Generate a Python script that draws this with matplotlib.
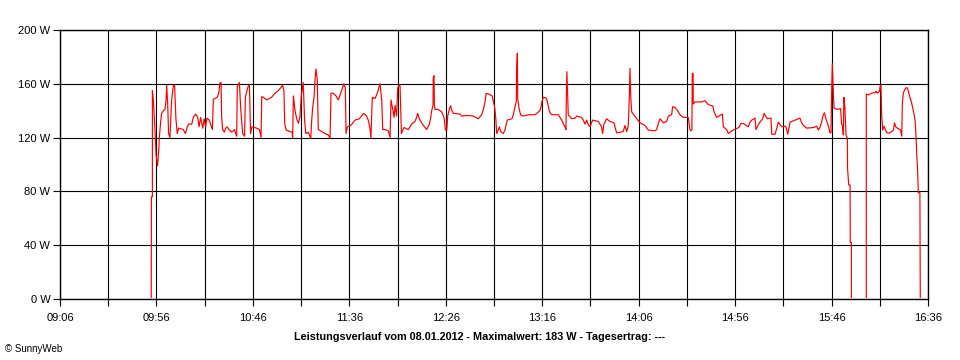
import matplotlib
matplotlib.use('Agg')
import matplotlib.pyplot as plt
from matplotlib.ticker import FuncFormatter, MultipleLocator
from matplotlib.transforms import Bbox, TransformedBbox

plt.rcParams['font.family'] = ['Liberation Sans', 'DejaVu Sans']

# minutes after 09:06 and power in W
minutes = [
    47.3, 47.4, 47.9, 47.9, 48.4, 49.4, 49.8, 50.6, 51.2, 51.5, 52.2, 52.7, 53.6, 54.4, 55.0, 55.3,
    55.8, 56.3, 57.0, 57.4, 57.9, 58.8, 59.4, 60.1, 60.8, 61.5, 63.9, 65.0, 66.0, 66.7, 68.3, 69.1,
    70.3, 71.4, 72.1, 72.9, 74.0, 74.7, 75.5, 76.2, 77.4, 78.5, 79.0, 79.5, 81.6, 82.4, 82.9, 83.5,
    83.8, 84.3, 85.2, 85.9, 86.6, 87.6, 89.0, 90.4, 91.6, 91.9, 93.0, 93.7, 94.7, 95.7, 96.1, 97.5,
    98.2, 98.8, 99.5, 102.0, 103.4, 104.2, 104.6, 105.4, 107.1, 109.7, 111.5, 113.2, 114.4, 115.4,
    116.1, 116.5, 117.2, 120.3, 120.6, 121.0, 121.8, 122.7, 123.6, 124.4, 125.1, 126.1, 126.8, 127.4,
    128.7, 130.0, 130.5, 131.0, 131.7, 132.2, 132.7, 133.4, 133.9, 135.7, 137.4, 139.1, 140.0, 140.5,
    141.7, 143.1, 144.3, 145.2, 146.5, 147.2, 147.9, 148.3, 149.0, 151.2, 152.9, 155.2, 157.3, 158.7,
    159.8, 160.7, 161.2, 161.9, 163.3, 164.5, 165.9, 166.8, 167.3, 168.5, 170.2, 171.1, 171.6, 172.5,
    173.2, 173.7, 174.5, 175.1, 175.9, 176.3, 177.0, 178.3, 180.6, 182.3, 184.0, 184.9, 185.4, 186.6,
    188.4, 190.1, 191.5, 192.2, 192.7, 193.4, 193.5, 193.9, 194.1, 194.4, 196.1, 197.9, 199.1, 199.8,
    200.5, 201.0, 201.8, 202.5, 203.2, 203.9, 207.4, 208.2, 210.8, 214.3, 216.9, 218.6, 219.5, 220.3,
    220.9, 222.1, 224.0, 224.7, 225.3, 225.9, 226.4, 227.2, 227.8, 228.5, 229.8, 230.7, 231.2, 231.9,
    234.3, 235.0, 235.9, 236.6, 236.7, 237.1, 237.3, 238.1, 238.8, 239.9, 242.8, 246.3, 248.8, 249.4,
    249.9, 250.6, 252.0, 252.6, 253.5, 254.0, 254.9, 258.4, 259.2, 260.1, 261.0, 261.8, 262.3, 262.5,
    262.8, 263.2, 263.5, 265.3, 267.0, 267.9, 270.4, 271.3, 272.2, 273.0, 273.9, 274.8, 275.6, 276.1,
    279.1, 280.8, 281.3, 282.0, 283.4, 285.1, 287.2, 287.7, 288.6, 292.0, 292.9, 293.8, 294.6, 295.2,
    295.5, 295.9, 296.4, 299.0, 300.7, 303.3, 305.0, 308.5, 309.3, 310.2, 311.1, 312.8, 314.5, 315.4,
    317.1, 317.6, 318.8, 319.7, 320.6, 321.4, 323.2, 325.7, 326.1, 326.6, 327.1, 327.6, 327.8, 328.2,
    328.3, 329.2, 332.7, 334.4, 336.1, 338.4, 339.0, 339.6, 340.4, 342.5, 343.4, 343.9, 345.6, 346.5,
    348.2, 351.2, 352.2, 352.9, 354.3, 356.8, 357.7, 358.6, 360.3, 360.8, 362.6, 364.3, 365.0, 366.7,
    368.6, 369.0, 370.7, 371.6, 372.4, 374.2, 376.2, 376.7, 377.3, 377.9, 378.5, 381.0, 383.6, 384.5,
    385.4, 387.1, 390.6, 392.3, 393.1, 394.0, 394.9, 395.7, 396.3, 397.1, 397.8, 398.5, 399.2, 399.7,
    400.1, 400.4, 400.8, 401.3, 403.0, 404.7, 405.2, 405.7, 406.1, 406.4, 406.9, 407.5, 408.2, 408.3,
    408.9, 409.6, 409.7, 410.3, 410.3, 418.0, 418.0, 419.1, 420.8, 422.5, 423.0, 423.7, 424.8, 425.3,
    425.6, 426.0, 426.5, 427.2, 428.6, 430.3, 432.1, 432.6, 433.3, 434.1, 435.8, 436.4, 436.7, 437.2,
    437.9, 438.6, 439.3, 440.0, 440.7, 441.4, 442.1, 442.7, 443.3, 443.8, 444.1, 444.6, 445.0, 445.8,
    446.0,
]
watts = [
    0, 76, 76, 155, 148, 121, 107, 99, 111, 120, 132, 138, 140, 141, 148, 159,
    146, 123, 120, 133, 148, 159, 159, 134, 123, 127, 126, 123, 128, 130, 130, 135,
    137.5, 135, 128, 135, 127, 134, 128, 134.5, 133, 128, 126, 148.5, 150, 154, 160.5, 161,
    135.5, 126, 124, 127, 128, 126, 124, 126, 121, 158, 161, 141, 123, 121, 150, 158,
    159, 123, 128, 127, 126, 120, 150.5, 150, 148, 150, 153, 155, 157, 159,
    155, 130.6, 125.6, 124, 120, 151, 140.5, 134, 130.6, 135.5, 151, 161, 133, 123,
    124, 119.5, 133, 142.5, 150, 163, 171, 163, 126, 124.5, 123, 122, 119.5, 153,
    153, 151, 148, 151.6, 157, 160, 157, 123, 128, 129.7, 133, 134, 138, 136.5,
    133, 127, 119.5, 150, 149, 153, 160, 148, 126, 126, 125, 120, 148, 141,
    135, 144, 136, 157, 159, 158.4, 123, 127.5, 126, 130, 132, 135, 138, 133,
    129, 126, 130, 135, 140, 144.3, 164, 166, 144, 141, 141, 139, 135, 125.6,
    125.6, 136, 141, 143.7, 140, 138, 137.5, 136, 136.5, 136, 134, 137, 141, 146.5,
    152.8, 152.5, 151, 146.5, 143, 135, 123, 125.6, 128, 124.5, 123, 125.6, 129, 133,
    134, 137, 143, 147, 169, 182.7, 148.8, 141, 137, 136, 137, 137, 140, 143,
    147, 150, 149.5, 147, 141, 138.5, 137, 137, 135, 133, 130, 128, 126, 150,
    169, 150, 137, 134, 134.5, 136, 135, 133, 130, 133, 129.5, 128, 131, 133,
    132, 128, 123, 130, 134, 132, 131, 128, 123.5, 124.5, 129, 124.5, 128.5, 152,
    171.5, 150, 139, 134, 131, 129, 125.6, 125, 126, 130.5, 134, 131, 132, 136,
    137, 143, 142.5, 141, 139, 137, 135, 135, 131, 126, 125, 125.6, 167.8, 167.8,
    145, 146.5, 146.5, 147.5, 144.5, 143.5, 139.5, 137.5, 135, 136.8, 137.5, 128, 126, 123,
    125, 127, 128, 130.5, 130.5, 128, 131.5, 133, 134.5, 126, 131, 134, 138, 134,
    134.5, 122.5, 122.5, 127, 131.5, 128, 128.5, 126, 122.5, 127, 131.5, 133, 134.5, 131,
    129, 127, 127.5, 128.5, 125.6, 127.5, 132, 137, 138.5, 134, 131, 128, 123.5, 123.5,
    158, 175, 158, 141.8, 141, 141.5, 130, 129, 122, 150, 142.5, 122, 119.5, 97,
    84.8, 84.8, 41.9, 41.9, 0, 0, 152.4, 151.7, 153, 153.5, 154.5, 153, 154.5, 159,
    159, 136.8, 125.6, 128.5, 123.5, 123.5, 125.6, 131, 128, 127, 125.6, 121, 145.5, 153,
    155.5, 157, 157, 153.5, 149.5, 146.5, 141.8, 138, 133, 121, 109.5, 96, 79, 79,
    0,
]

y_ticks = [0, 40, 80, 120, 160, 200]
start_hour, start_min = 9, 6
title = 'Leistungsverlauf vom 08.01.2012 - Maximalwert: 183 W - Tagesertrag: ---'


def clock(x, pos=None):
    total = start_hour * 60 + start_min + int(round(x))
    return '%02d:%02d' % (total // 60, total % 60)


fig = plt.figure(figsize=(9.6, 3.6), dpi=100)
ax = fig.add_axes([60 / 960, 1 - 299 / 360, 868 / 960, 269 / 360])

line, = ax.plot(minutes, watts, color='#ff0000', lw=0.85, zorder=2)
# the stretch at 0 W sits under the black axis line in the original
line.set_clip_box(TransformedBbox(Bbox([[0, 0.005], [1, 1]]), ax.transAxes))

ax.set_xlim(0, 450)
ax.set_ylim(0, 200)
ax.xaxis.set_major_locator(MultipleLocator(50))
ax.xaxis.set_minor_locator(MultipleLocator(25))
ax.xaxis.set_major_formatter(FuncFormatter(clock))
ax.set_yticks(y_ticks)
ax.set_yticklabels(['%d W' % v for v in y_ticks])

ax.grid(True, which='both', axis='x', color='black', lw=0.8)
ax.grid(True, which='major', axis='y', color='black', lw=0.8)
ax.set_axisbelow(True)
for s in ax.spines.values():
    s.set_color('black')
    s.set_linewidth(1.0)

ax.tick_params(axis='both', which='both', direction='out', length=5, width=0.8,
               color='black', labelsize=8, pad=2)
ax.tick_params(axis='x', which='major', pad=5)

fig.text(0.5, 1 - 337 / 360, title, ha='center', va='center', fontsize=7.8, fontweight='bold')
fig.text(5 / 960, 1 - 349 / 360, '\u00a9 SunnyWeb', ha='left', va='center', fontsize=7)

fig.savefig('out.png', dpi=100)
